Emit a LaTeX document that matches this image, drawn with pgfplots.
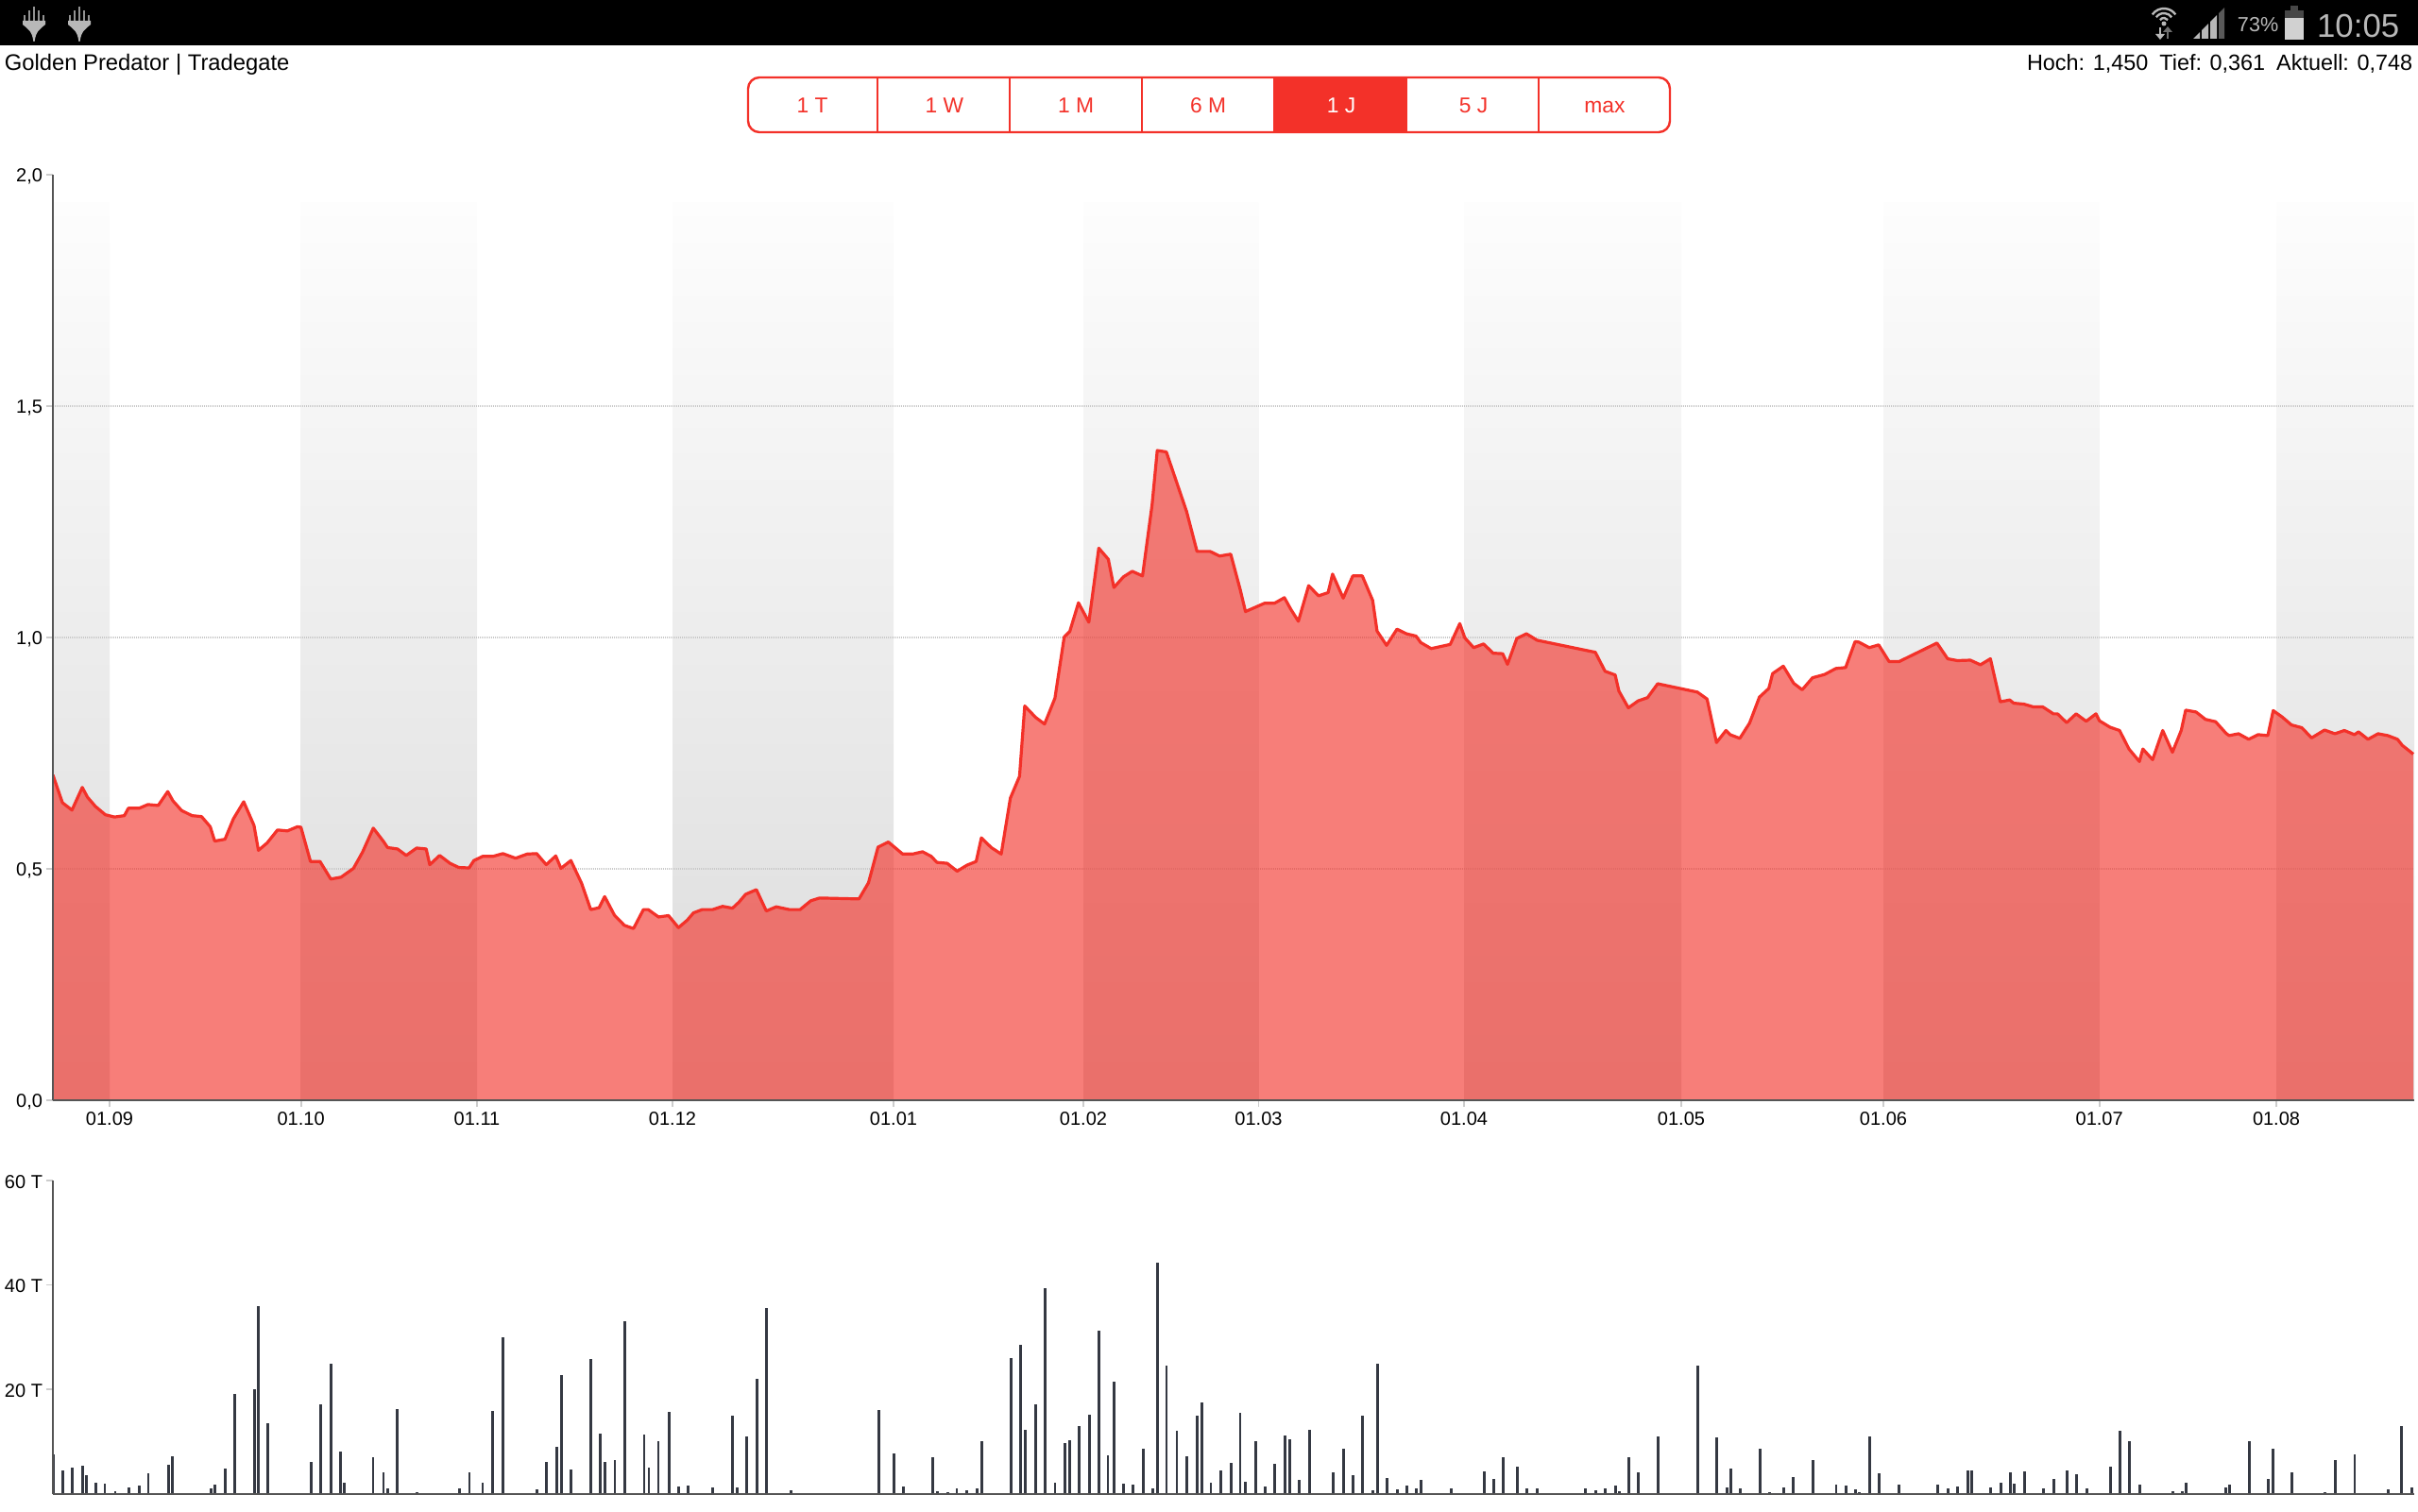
\documentclass[border=0pt]{standalone}
\usepackage{pgfplots}
\pgfplotsset{compat=1.18}
\usepackage{pgfplotstable}
\usepackage{fontspec}
\setmainfont{Liberation Sans}
\definecolor{chred}{HTML}{F33129}
\definecolor{axc}{HTML}{555555}
\definecolor{tickc}{HTML}{CCCCCC}
\definecolor{gridc}{HTML}{C8C8C8}
\definecolor{bandtop}{HTML}{FDFDFD}
\definecolor{bandbot}{HTML}{DBDBDB}
\definecolor{barc}{HTML}{343842}
\definecolor{statc}{HTML}{B8B8B8}
\newcommand{\pxf}[1]{\fontsize{#1}{#1}\selectfont}
\pgfplotstableread{
x v
56 0.703
66.1 0.643
76.2 0.627
87.1 0.676
92.6 0.655
101 0.635
111.5 0.617
121.2 0.612
131.7 0.615
135.9 0.631
147.3 0.631
156.6 0.639
167.5 0.637
177.6 0.667
183.1 0.647
192.3 0.626
203.3 0.615
213.4 0.613
222.6 0.591
227.3 0.560
238.2 0.564
247.1 0.608
258 0.645
268.9 0.594
273.6 0.540
282.8 0.556
293.8 0.584
304.3 0.582
314.8 0.591
318.6 0.590
328.7 0.516
338.8 0.516
350.2 0.478
361.1 0.482
374.2 0.501
383.8 0.536
395.2 0.588
406.1 0.559
410.4 0.546
420.9 0.543
430.1 0.529
441.1 0.545
451.2 0.543
455 0.509
465.5 0.529
476.4 0.512
485.7 0.503
496.6 0.502
501.7 0.518
511 0.527
521.9 0.527
532.4 0.533
545.9 0.523
558.1 0.532
568.2 0.533
578.3 0.509
588.4 0.528
593.9 0.501
604.4 0.518
615.7 0.469
625.4 0.412
634.3 0.416
640.2 0.440
650.5 0.400
661 0.378
670.7 0.371
681.2 0.412
686.3 0.412
697.2 0.396
707.8 0.399
718.3 0.373
727.5 0.389
734.3 0.405
743.5 0.412
754.5 0.412
765 0.419
775.5 0.415
782.3 0.428
789.4 0.445
800.8 0.455
811.3 0.409
821.8 0.418
835.7 0.412
847.1 0.412
858.4 0.431
867.7 0.437
909.4 0.435
919.5 0.470
929.6 0.547
940.5 0.558
955.7 0.532
966.2 0.532
976.7 0.537
986 0.527
991.9 0.514
1002.8 0.512
1013.3 0.495
1023.8 0.508
1033.5 0.516
1039 0.567
1049.5 0.546
1060 0.532
1069.7 0.653
1079.4 0.700
1084.9 0.852
1096.6 0.827
1105.9 0.813
1116.9 0.869
1126.7 1.001
1132.6 1.013
1141.8 1.075
1152.8 1.033
1163.3 1.193
1173.4 1.169
1179.3 1.108
1189.4 1.131
1198.7 1.143
1209.6 1.133
1219.7 1.286
1225.2 1.404
1234.8 1.401
1256.3 1.272
1267.3 1.186
1281.1 1.186
1291.2 1.176
1303 1.180
1313.1 1.103
1318.6 1.056
1338.8 1.074
1349.3 1.074
1359.8 1.086
1366.6 1.061
1374.6 1.035
1385.5 1.112
1396 1.090
1406.1 1.097
1410.8 1.137
1422.1 1.085
1432.2 1.133
1442.3 1.133
1453.3 1.080
1457.9 1.014
1468 0.983
1479 1.018
1489.1 1.008
1499.2 1.003
1504.2 0.989
1515.2 0.976
1535.4 0.985
1545.5 1.030
1550.9 0.999
1560.2 0.978
1570.7 0.986
1580.8 0.966
1590.9 0.965
1596 0.942
1605.9 0.998
1616.1 1.008
1627.4 0.994
1689 0.968
1699.3 0.927
1710 0.919
1714 0.884
1724 0.848
1734.3 0.863
1744.3 0.870
1755 0.900
1797 0.882
1807.3 0.867
1817.3 0.773
1827.3 0.799
1831.7 0.790
1842 0.782
1852.3 0.815
1862.7 0.871
1872.7 0.890
1876.7 0.922
1888 0.938
1899 0.901
1908 0.887
1919 0.913
1931.7 0.920
1943.7 0.933
1954 0.935
1964 0.991
1968 0.990
1979 0.978
1989 0.984
2000 0.948
2010.7 0.948
2050.7 0.988
2062 0.954
2072.3 0.950
2086 0.951
2096.7 0.941
2107.3 0.954
2117.7 0.861
2127.7 0.865
2132 0.858
2142.7 0.856
2152.7 0.850
2162.7 0.850
2174 0.835
2178.3 0.835
2188 0.816
2198 0.835
2208.7 0.819
2219 0.835
2222.7 0.820
2234 0.806
2244 0.799
2254 0.759
2265 0.732
2268.7 0.759
2279 0.736
2289.7 0.799
2300 0.752
2309.3 0.799
2314 0.843
2325 0.839
2335 0.823
2345.7 0.818
2356.7 0.793
2360 0.788
2370 0.792
2380.7 0.780
2390.7 0.790
2401 0.788
2406.7 0.842
2416.3 0.828
2426 0.811
2437 0.805
2447.3 0.783
2461 0.800
2472 0.792
2482 0.799
2492.7 0.790
2497 0.796
2507 0.780
2517.7 0.792
2528 0.788
2538.3 0.780
2543.3 0.767
2555 0.748
}\pricetable
\pgfplotstableread{
x v
56.5 7.5
66.5 4.5
76.3 5.0
87.3 5.4
91.4 3.6
101.2 2.1
111 1.9
122 0.5
136.3 1.2
147.3 1.6
157.1 3.9
178.4 5.5
182.4 7.1
223.3 1.0
227.3 1.7
238.4 4.9
248.2 19.1
269.4 20.0
273.5 36.0
283.3 13.5
329.4 6.1
339.2 17.2
350.2 24.9
360.4 8.1
364.5 2.1
395.1 7.0
406.1 4.1
410.2 1.0
420.4 16.2
441.2 0.3
455.5 0.2
466.5 0.2
486.5 1.0
497.1 4.1
511 2.1
521.2 15.8
532.2 29.9
568.2 0.8
578.4 6.1
589.4 9.0
594.3 22.7
604.5 4.6
625.3 25.9
635.5 11.5
640.6 6.1
651 6.4
661.2 33.0
682 11.3
686.9 5.0
697.1 10.1
708.2 15.7
718.4 1.4
728.2 1.6
754.3 1.2
775.5 14.9
780.4 1.2
790.2 11.0
801.2 22.0
811.4 35.5
837.6 0.7
930.2 16.0
946.5 7.7
956.3 1.4
966.5 0.15
987.3 7.0
992.2 0.5
1003.3 0.3
1013.1 1.0
1023.3 0.7
1034.3 1.0
1039.2 10.1
1070.2 26.0
1080.4 28.5
1085.3 12.2
1096.3 17.1
1106.5 39.3
1117.1 2.1
1127.3 9.7
1132.2 10.2
1142.4 13.0
1153.5 15.1
1163.3 31.2
1173 7.3
1179.2 21.4
1189.4 1.9
1199.2 1.7
1210.2 8.6
1220.4 1.0
1225.3 44.2
1235.1 24.5
1246.1 12.0
1256.3 7.2
1267.3 14.9
1272.2 17.5
1282 2.1
1292.2 4.5
1303.3 5.9
1313.1 15.5
1318.4 2.3
1329.4 10.1
1339.2 1.4
1349.4 5.7
1360.4 11.1
1365.3 10.4
1375.5 2.7
1386.5 12.2
1411.4 4.1
1422.4 8.6
1432.2 3.6
1442.4 14.9
1453.5 0.7
1458.4 24.9
1468.2 3.0
1479.2 0.8
1489.4 1.6
1499.2 1.0
1504.5 2.7
1536.3 1.0
1550.2 0.2
1571.4 4.3
1581.2 2.8
1591.4 7.0
1606.5 5.2
1616.3 1.0
1627.3 1.0
1678.4 1.0
1689.4 0.7
1699.2 1.0
1710.2 1.6
1714.3 0.5
1724.5 7.0
1734.3 4.1
1755.5 11.0
1797.6 24.5
1817.6 10.8
1828.2 1.2
1832.2 4.8
1842.4 1.0
1863.3 8.6
1873.5 0.3
1888.2 1.2
1898.4 3.2
1919.2 6.4
1944.1 1.7
1954.3 1.6
1964.5 0.8
1968.2 0.3
1979.2 11.0
1989.4 3.9
2000.4 0.15
2010.2 1.7
2051.4 1.7
2062.4 1.0
2072.2 1.4
2083.3 4.5
2087.3 4.5
2107.3 1.2
2118.4 2.1
2128.2 4.1
2132.2 1.9
2143.3 4.3
2163.3 1.0
2174.3 2.8
2188.2 4.5
2198.4 3.7
2209.4 1.0
2234.3 5.2
2244.5 12.0
2254.3 10.1
2265.3 1.7
2300.4 0.5
2310.2 0.5
2314.3 2.1
2356.3 1.2
2360.4 1.7
2381.2 10.1
2401.2 2.8
2406.5 8.6
2426.5 4.1
2461.2 0.3
2472.2 6.4
2493.1 7.5
2517.6 0.15
2528.2 0.8
2542.4 13.0
2553.5 1.2
}\voltable
\pgfplotsset{common/.style={
  scale only axis, width=625pt, xmin=56, xmax=2556,
  axis x line*=bottom, axis y line*=left,
  axis line style={axc, line width=0.6pt, -},
  tick style={tickc, line width=0.45pt},
  major tick length=1.75pt,
  tick align=outside,
  minor tick num=0,
  ticklabel style={font=\pxf{5}, text=black},
  y tick label style={inner xsep=0pt, xshift=-0.8pt, yshift=-0.35pt},
  x tick label style={inner ysep=0pt, yshift=-1.1pt},
  axis on top,
}}
\begin{document}
\begin{tikzpicture}
\useasboundingbox (0,0) rectangle (640pt,400pt);
\begin{axis}[common, at={(14pt,108.75pt)}, anchor=south west, height=245pt,
  ymin=0, ymax=2,
  ytick={0,0.5,1,1.5,2}, yticklabels={{0,0},{0,5},{1,0},{1,5},{2,0}},
  xtick={116,318.6,505,712,946,1147,1332.5,1550,1780,1994,2222.7,2410},
  xticklabels={01.09,01.10,01.11,01.12,01.01,01.02,01.03,01.04,01.05,01.06,01.07,01.08}]
\addplot[draw=none, top color=bandtop, bottom color=bandbot] coordinates {(56,0)(56,1.94)(116,1.94)(116,0)} --cycle;
\addplot[draw=none, top color=bandtop, bottom color=bandbot] coordinates {(318.6,0)(318.6,1.94)(505,1.94)(505,0)} --cycle;
\addplot[draw=none, top color=bandtop, bottom color=bandbot] coordinates {(712,0)(712,1.94)(946,1.94)(946,0)} --cycle;
\addplot[draw=none, top color=bandtop, bottom color=bandbot] coordinates {(1147,0)(1147,1.94)(1332.5,1.94)(1332.5,0)} --cycle;
\addplot[draw=none, top color=bandtop, bottom color=bandbot] coordinates {(1550,0)(1550,1.94)(1780,1.94)(1780,0)} --cycle;
\addplot[draw=none, top color=bandtop, bottom color=bandbot] coordinates {(1994,0)(1994,1.94)(2222.7,1.94)(2222.7,0)} --cycle;
\addplot[draw=none, top color=bandtop, bottom color=bandbot] coordinates {(2410,0)(2410,1.94)(2556,1.94)(2556,0)} --cycle;
\addplot[gridc, line width=0.3pt, dash pattern=on 0.25pt off 0.25pt] coordinates {(56,0.5)(2556,0.5)};
\addplot[gridc, line width=0.3pt, dash pattern=on 0.25pt off 0.25pt] coordinates {(56,1)(2556,1)};
\addplot[gridc, line width=0.3pt, dash pattern=on 0.25pt off 0.25pt] coordinates {(56,1.5)(2556,1.5)};
\addplot[draw=none, fill=chred, fill opacity=0.626] table[x=x,y=v] {\pricetable} \closedcycle;
\addplot[chred, line width=0.8pt, line join=round, sharp plot] table[x=x,y=v] {\pricetable};
\end{axis}
\begin{axis}[common, at={(14pt,4.575pt)}, anchor=south west, height=82.925pt,
  ymin=0, ymax=60,
  ytick={20,40,60}, yticklabels={20 T,40 T,60 T},
  xtick=\empty]
\addplot[ycomb, barc, line width=0.68pt, mark=none] table[x=x,y=v] {\voltable};
\end{axis}
\begin{scope}[x=0.25pt,y=-0.25pt,yshift=400pt]
  % status bar
  \fill[black] (0,0) rectangle (2560,48);
  \foreach \cx in {36,84}{
    \begin{scope}[xshift=\cx*0.25pt]
      \foreach \dx/\top in {-10/16,-5/11,0/7,5/11,10/16}{
        \draw[statc!80!black, line width=0.45pt] (\dx,\top) -- (\dx,26);
      }
      \fill[statc] (-12,22) -- (12,22) -- (12,26) .. controls (6,31) and (2,33) .. (0.6,44) -- (-0.6,44) .. controls (-2,33) and (-6,31) .. (-12,26) -- cycle;
    \end{scope}
  }
  % wifi
  \foreach \r in {15,10,5}{
    \draw[statc, line width=0.6pt] ([shift={(215:\r)}]2291,24) arc[start angle=215, end angle=325, radius=\r];
  }
  \fill[statc] (2291,25) circle (2.5);
  \draw[statc, line width=0.4pt] (2287,29) -- (2287,40);
  \fill[statc] (2282,36) -- (2292,36) -- (2287,42) -- cycle;
  \draw[statc!60!black, line width=0.4pt] (2295,41) -- (2295,31);
  \fill[statc!60!black] (2290,34) -- (2300,34) -- (2295,28) -- cycle;
  % signal
  \fill[statc] (2322,41) -- (2329,34) -- (2329,41) -- cycle;
  \fill[statc] (2331,32) -- (2338,25) -- (2338,41) -- (2331,41) -- cycle;
  \fill[statc] (2340,23) -- (2347,16) -- (2347,41) -- (2340,41) -- cycle;
  \fill[black!65] (2349,14) -- (2355,8) -- (2355,41) -- (2349,41) -- cycle;
  % battery
  \fill[black!72] (2425,6) rectangle (2433,11);
  \fill[black!72] (2419,11) rectangle (2439,19);
  \fill[black!18] (2419,19) rectangle (2439,42);
  \node[anchor=east, inner sep=0pt, text=statc, font=\pxf{5.4}] at (2413,26) {73\%};
  \node[anchor=east, inner sep=0pt, text=statc, font=\pxf{8.7}] at (2541,28) {10:05};
  % header
  \node[anchor=base west, inner sep=0pt, font=\pxf{5.95}] at (4,74.5) {Golden Predator | Tradegate};
  \node[anchor=base east, inner sep=0pt, font=\pxf{5.85}] at (2555,74.5) {Hoch: 1,450\hspace{3pt}Tief: 0,361\hspace{3pt}Aktuell: 0,748};
  % range buttons
  \fill[chred] (1348,82) rectangle (1490,140);
  \foreach \xx in {929,1068.6,1209,1629}{ \draw[chred, line width=0.45pt] (\xx,82) -- (\xx,140); }
  \draw[chred, line width=0.6pt, rounded corners=3pt] (792,82) rectangle (1768,140);
  \foreach \cx/\lab in {860/1 T,1000/1 W,1139/1 M,1279/6 M,1560/5 J}{
    \node[inner sep=0pt, text=chred, font=\pxf{5.7}] at (\cx,112) {\lab};
  }
  \node[inner sep=0pt, text=chred, font=\pxf{5.7}] at (1699,113) {max};
  \node[inner sep=0pt, text=white, font=\pxf{5.7}] at (1420,112) {1 J};
\end{scope}
\end{tikzpicture}
\end{document}
